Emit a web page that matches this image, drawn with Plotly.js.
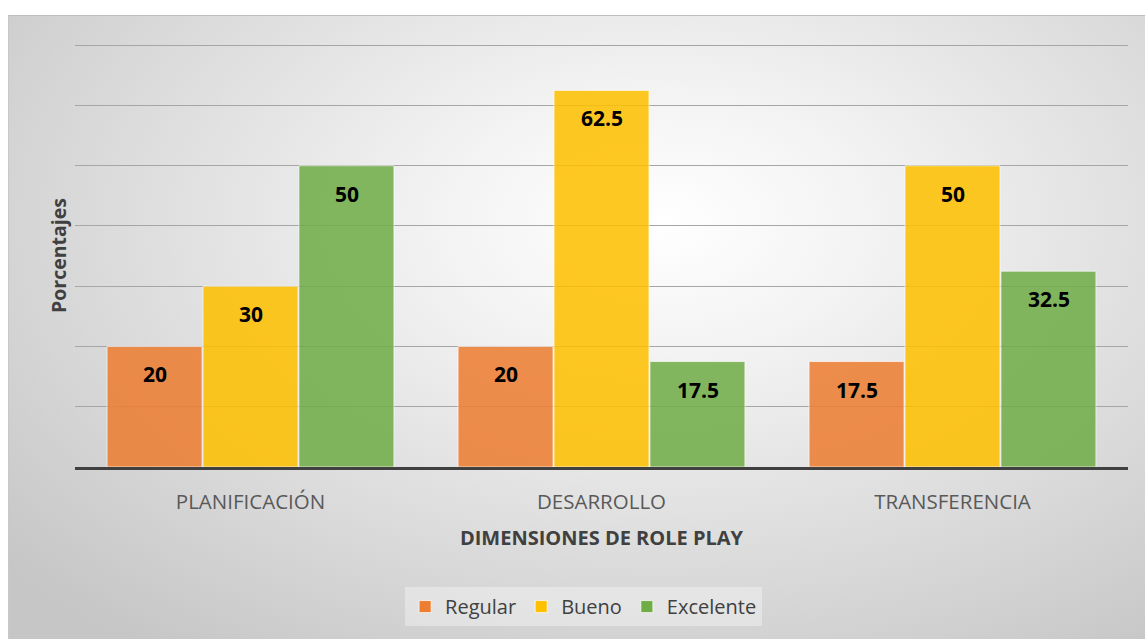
<!DOCTYPE html>
<html>
<head>
<meta charset="utf-8">
<script src="https://cdn.plot.ly/plotly-3.0.1.min.js"></script>
<style>
  html, body { margin: 0; padding: 0; background: #ffffff; }
  #wrap { position: relative; width: 1145px; height: 639px; overflow: hidden; }
  #bg { position: absolute; left: 8px; top: 15px; width: 1137px; height: 624px;
        background: radial-gradient(ellipse 75% 85% at 57% 33%, #ffffff 0%, #f3f3f3 25%, #dedede 60%, #c6c6c6 100%);
        border-top: 1px solid #bdbdbd; border-left: 1px solid #c8c8c8; }
  #chart { position: absolute; left: 0; top: 0; width: 1145px; height: 639px; }
</style>
</head>
<body>
<div id="wrap"><div id="bg"></div><div id="chart"></div></div>
<script>
const categories = ['PLANIFICACIÓN', 'DESARROLLO', 'TRANSFERENCIA'];
const seriesNames = ['Regular', 'Bueno', 'Excelente'];
const regular = [20, 20, 17.5];
const bueno = [30, 62.5, 50];
const excelente = [50, 17.5, 32.5];
const colors = ['#ED7D31', '#FFC000', '#70AD47'];

const seriesValues = [regular, bueno, excelente];
const FONT = '"Open Sans", "Noto Sans", sans-serif';

const traces = seriesValues.map((vals, i) => ({
  type: 'bar',
  name: seriesNames[i],
  x: categories,
  y: vals,
  marker: { color: colors[i], opacity: 0.86, line: { color: 'rgba(255,255,255,0.7)', width: 1 } },
  hoverinfo: 'x+y+name'
}));

const annotations = [];
seriesValues.forEach((vals, i) => {
  vals.forEach((v, j) => {
    annotations.push({
      x: categories[j], y: v, xref: 'x', yref: 'y',
      text: String(v), showarrow: false,
      xshift: (i - 1) * 96, yshift: -28,
      font: { family: FONT, size: 21, color: '#000000', weight: 'bold' }
    });
  });
});

const layout = {
  width: 1145, height: 639,
  paper_bgcolor: 'rgba(0,0,0,0)',
  plot_bgcolor: 'rgba(0,0,0,0)',
  margin: { l: 75, r: 17, t: 44, b: 172 },
  barmode: 'group',
  bargap: 0.18,
  bargroupgap: 0.01,
  showlegend: true,
  legend: {
    orientation: 'h', x: 0.483, xanchor: 'center', y: -0.33, yanchor: 'middle',
    bgcolor: 'rgba(255,255,255,0.35)',
    font: { family: FONT, size: 20, color: '#404040' },
    itemwidth: 30,
    traceorder: 'normal'
  },
  xaxis: {
    type: 'category',
    showgrid: false,
    showline: true, linecolor: '#404040', linewidth: 3,
    ticks: '', ticklabelstandoff: 14,
    tickfont: { family: FONT, size: 20.5, color: '#595959' },
    title: { text: 'DIMENSIONES DE ROLE PLAY', standoff: 18,
             font: { family: FONT, size: 20, color: '#404040', weight: 'bold' } }
  },
  yaxis: {
    range: [0, 70.2], tickvals: [10, 20, 30, 40, 50, 60, 70],
    showticklabels: false, ticks: '',
    showgrid: true, gridcolor: '#a6a6a6', gridwidth: 1,
    zeroline: false, showline: false,
    title: { text: 'Porcentajes', standoff: 2,
             font: { family: FONT, size: 19.5, color: '#404040', weight: 'bold' } }
  },
  annotations: annotations,
  font: { family: FONT }
};

Plotly.newPlot('chart', traces, layout, { displayModeBar: false, staticPlot: true });
</script>
</body>
</html>
